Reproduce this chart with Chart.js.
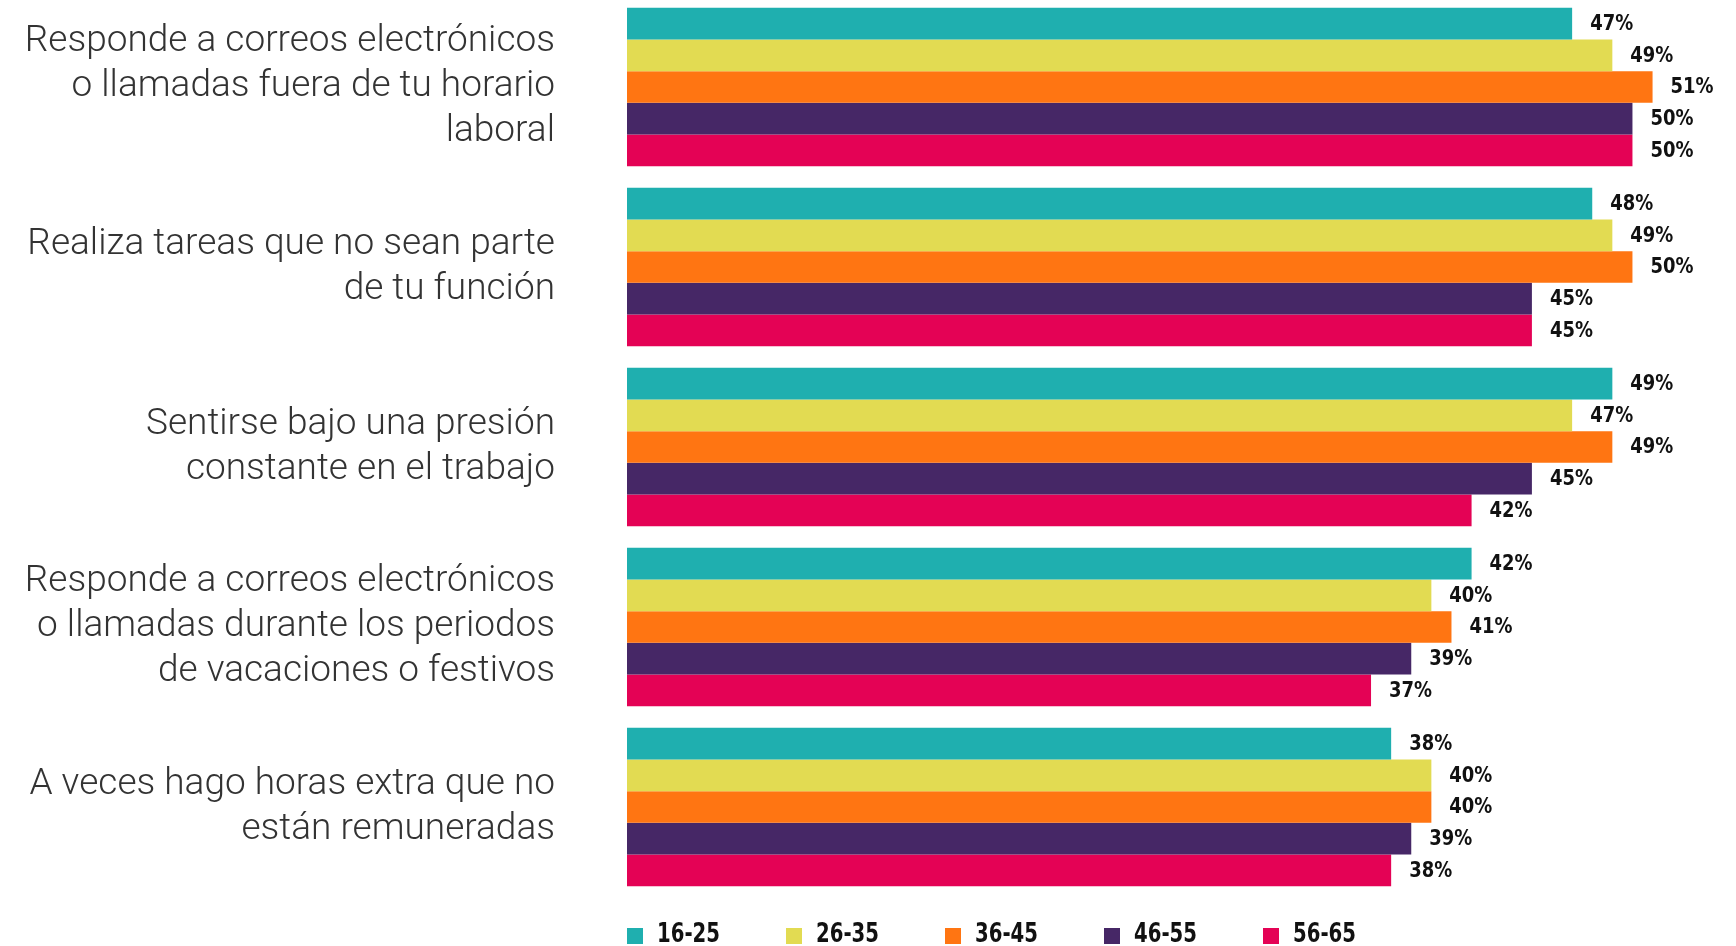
<!DOCTYPE html>
<html lang="es">
<head>
<meta charset="utf-8">
<title>Presión laboral por grupo de edad</title>
<script src="https://cdn.jsdelivr.net/npm/chart.js@4/dist/chart.umd.min.js"></script>
<style>
  html, body { margin: 0; padding: 0; background: #ffffff; overflow: hidden; }
  body { width: 1736px; height: 946px; position: relative; }
  #chart { position: absolute; left: 0; top: -3px; }
</style>
</head>
<body>
<canvas id="chart" width="1736" height="949"></canvas>
<script>
// Situations (multi-line labels for the y axis)
const categories = [
  ["Responde a correos electrónicos", "o llamadas fuera de tu horario", "laboral"],
  ["Realiza tareas que no sean parte", "de tu función"],
  ["Sentirse bajo una presión", "constante en el trabajo"],
  ["Responde a correos electrónicos", "o llamadas durante los periodos", "de vacaciones o festivos"],
  ["A veces hago horas extra que no", "están remuneradas"]
];

// Age groups
const ageGroups = ["16-25", "26-35", "36-45", "46-55", "56-65"];

// Share of respondents (%) per age group, one value per situation
const age16_25 = [47, 48, 49, 42, 38];
const age26_35 = [49, 49, 47, 40, 40];
const age36_45 = [51, 50, 49, 41, 40];
const age46_55 = [50, 45, 45, 39, 39];
const age56_65 = [50, 45, 42, 37, 38];

const seriesValues = [age16_25, age26_35, age36_45, age46_55, age56_65];
const seriesColors = ["#1FAFAF", "#E2DB52", "#FF7512", "#462766", "#E40255"];

const BOLD_FONT = "'DejaVu Sans Condensed', 'DejaVu Sans', sans-serif";

// Percentage labels just past the end of each bar
const valueLabels = {
  id: "valueLabels",
  afterDatasetsDraw(chart) {
    const ctx = chart.ctx;
    ctx.save();
    ctx.font = "bold 21px " + BOLD_FONT;
    ctx.fillStyle = "#111111";
    ctx.textAlign = "left";
    ctx.textBaseline = "middle";
    chart.data.datasets.forEach((ds, di) => {
      const meta = chart.getDatasetMeta(di);
      meta.data.forEach((bar, i) => {
        ctx.fillText(ds.data[i] + "%", bar.x + 18, bar.y + 1, 43);
      });
    });
    ctx.restore();
  }
};

// Legend row under the plot: coloured square followed by the age group
const legendRow = {
  id: "legendRow",
  afterDraw(chart) {
    const ctx = chart.ctx;
    const area = chart.chartArea;
    const box = 16, gap = 14, pitch = 159;
    const top = area.bottom + 31;
    ctx.save();
    ctx.font = "bold 26px " + BOLD_FONT;
    ctx.textAlign = "left";
    ctx.textBaseline = "alphabetic";
    chart.data.datasets.forEach((ds, i) => {
      const x = area.left + i * pitch;
      ctx.fillStyle = ds.backgroundColor;
      ctx.fillRect(x, top, box, box);
      ctx.fillStyle = "#111111";
      ctx.fillText(ds.label, x + box + gap, top + 14, 63);
    });
    ctx.restore();
  }
};

const datasets = ageGroups.map((name, i) => ({
  label: name,
  data: seriesValues[i],
  backgroundColor: seriesColors[i],
  borderWidth: 0,
  categoryPercentage: 0.88,
  barPercentage: 1.0
}));

new Chart(document.getElementById("chart"), {
  type: "bar",
  data: { labels: categories, datasets: datasets },
  options: {
    indexAxis: "y",
    responsive: false,
    animation: false,
    devicePixelRatio: 1,
    layout: { padding: { top: 0, right: 3, bottom: 49, left: 0 } },
    plugins: {
      legend: { display: false },
      tooltip: { enabled: false }
    },
    scales: {
      x: {
        display: false,
        min: 0,
        max: 55
      },
      y: {
        position: "left",
        grid: { display: false, drawTicks: false, tickLength: 0 },
        border: { display: false },
        ticks: {
          padding: 72,
          color: "#333333",
          font: { family: "Roboto, 'Noto Sans', sans-serif", size: 37, weight: "300", lineHeight: 1.21 }
        },
        afterFit(scale) {
          scale.width = 627;
          scale.paddingTop = 0;
          scale.paddingBottom = 0;
        }
      }
    }
  },
  plugins: [valueLabels, legendRow]
});
</script>
</body>
</html>
